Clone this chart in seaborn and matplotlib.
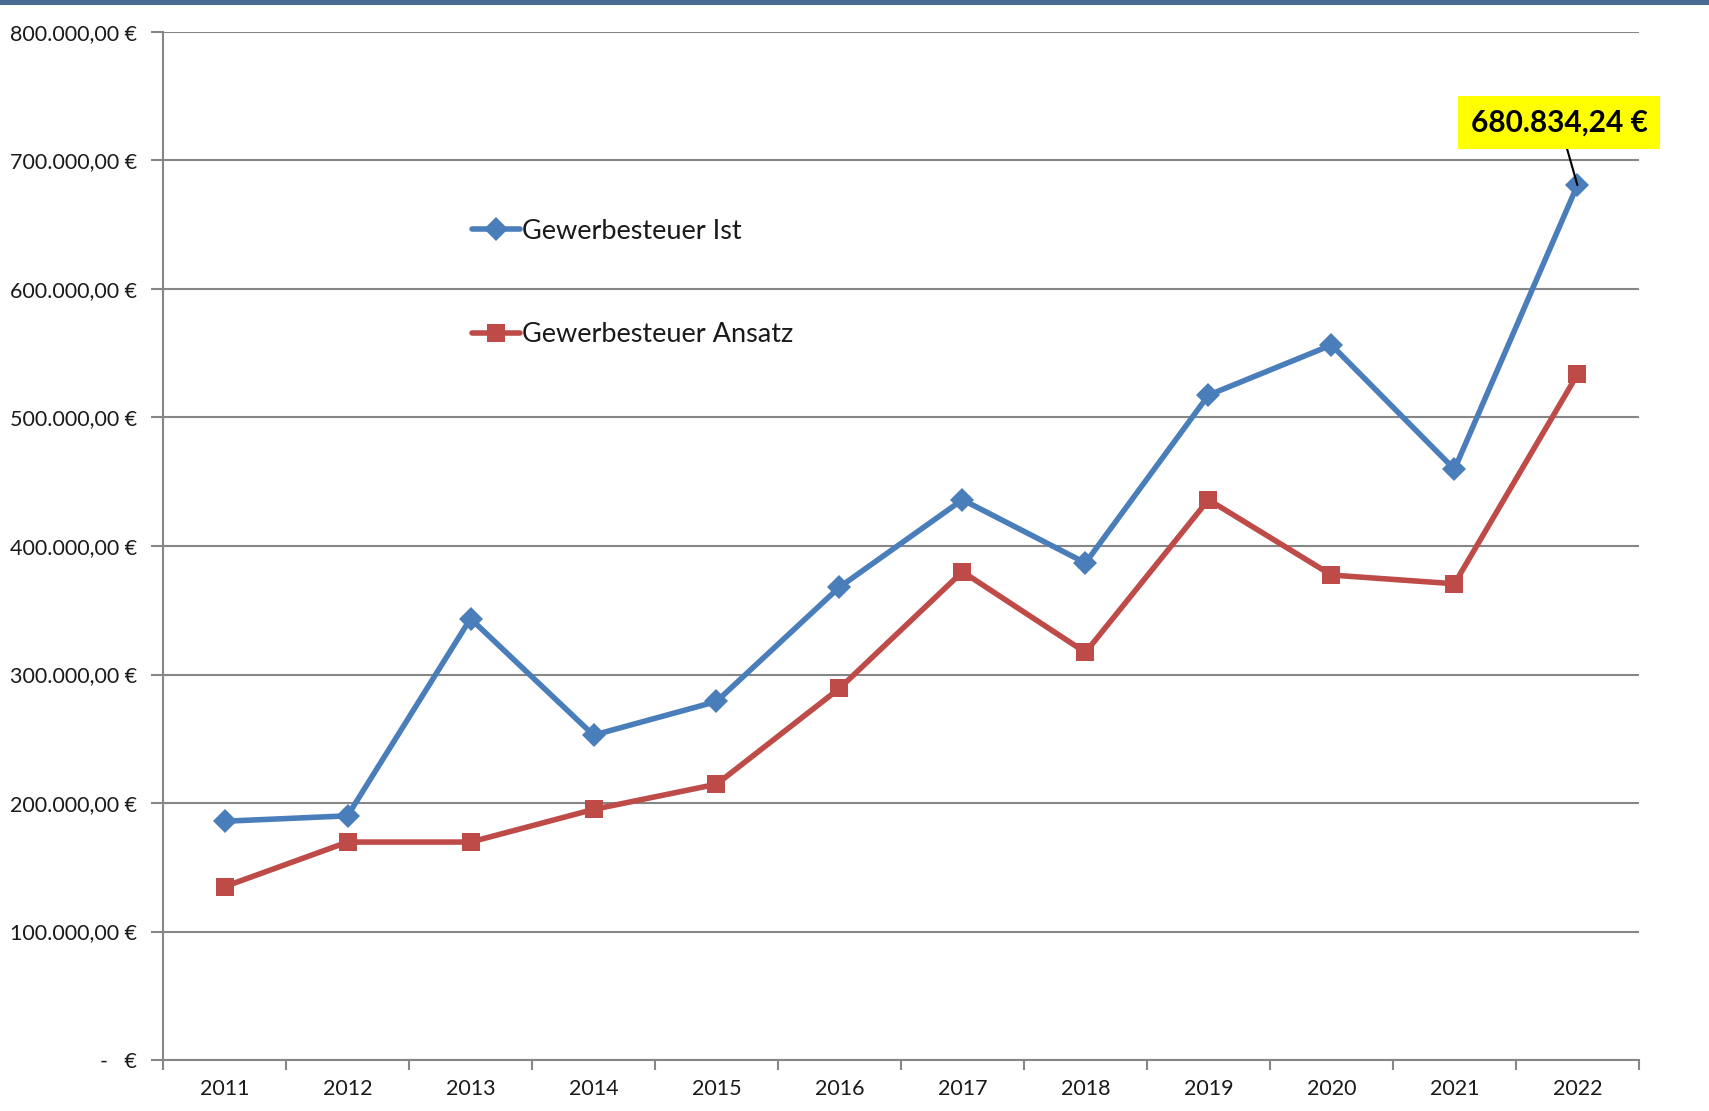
import numpy as np
import pandas as pd
import matplotlib
matplotlib.use("Agg")
import matplotlib.pyplot as plt
import matplotlib.ticker as mticker
from matplotlib.patches import Rectangle
import seaborn as sns

# --- Data ---
jahre = ["2011", "2012", "2013", "2014", "2015", "2016",
         "2017", "2018", "2019", "2020", "2021", "2022"]
ist = [185800, 190000, 343500, 252800, 279000, 368000,
       436000, 386800, 517400, 556400, 459700, 680834.24]
ansatz = [134900, 169600, 169600, 195000, 214600, 289200,
          380000, 317200, 436000, 377400, 370600, 533500]
serien = ["Gewerbesteuer Ist", "Gewerbesteuer Ansatz"]
farben = {"Gewerbesteuer Ist": "#4A7EBB", "Gewerbesteuer Ansatz": "#BE4B48"}
marker = {"Gewerbesteuer Ist": "D", "Gewerbesteuer Ansatz": "s"}

df = pd.DataFrame({
    "Jahr": jahre * 2,
    "Wert": ist + ansatz,
    "Serie": [serien[0]] * len(jahre) + [serien[1]] * len(jahre),
})

# --- Style ---
sns.set_theme(style="white")
plt.rcParams["font.family"] = ["Lato", "DejaVu Sans"]
grau = "#868686"


def euro_fmt(v, pos=None):
    if abs(v) < 1e-6:
        return "-   €"
    s = f"{v:,.2f}"
    s = s.replace(",", "X").replace(".", ",").replace("X", ".")
    return s + " €"


fig = plt.figure(figsize=(17.09, 11.11), dpi=100)
ax = fig.add_axes([0.0954, 0.0459, 0.8636, 0.9253])

sns.lineplot(data=df, x="Jahr", y="Wert", hue="Serie", style="Serie",
             palette=farben, markers=marker, dashes=False, lw=4,
             markersize=12.5, markeredgewidth=0, sort=False, ax=ax)

# axes
ax.set_xlim(-0.5, len(jahre) - 0.5)
ax.set_ylim(0, 800000)
ax.set_xlabel("")
ax.set_ylabel("")
ax.yaxis.set_major_locator(mticker.MultipleLocator(100000))
ax.yaxis.set_major_formatter(mticker.FuncFormatter(euro_fmt))
ax.set_xticks(range(len(jahre)))
ax.set_xticklabels(jahre)
ax.xaxis.set_minor_locator(mticker.FixedLocator(np.arange(-0.5, len(jahre), 1)))
ax.tick_params(axis="x", which="major", length=0, pad=14, labelsize=15.5, labelcolor="#1a1a1a")
ax.tick_params(axis="x", which="minor", length=7, width=1.5, color=grau, direction="out", bottom=True)
ax.tick_params(axis="y", length=9, width=1.5, color=grau, direction="out", left=True,
               labelsize=15.5, labelcolor="#1a1a1a", pad=10)
ax.grid(axis="y", color=grau, lw=1.5)
ax.set_axisbelow(True)
for side in ["top", "right"]:
    ax.spines[side].set_visible(False)
for side in ["left", "bottom"]:
    ax.spines[side].set_color(grau)
    ax.spines[side].set_linewidth(1.5)

# legend
handles, labels = ax.get_legend_handles_labels()
leg = ax.legend(handles, labels, loc="upper left", bbox_to_anchor=(0.193, 0.842),
                frameon=False, fontsize=19.5, labelspacing=2.9, handlelength=1.75,
                handletextpad=0.1)
for h in leg.legend_handles:
    h.set_linewidth(4)
for t in leg.get_texts():
    t.set_color("#1a1a1a")

# annotation of last value
ax.annotate(euro_fmt(ist[-1]), xy=(len(jahre) - 1, ist[-1]),
            xytext=(-18, 63), textcoords="offset pixels",
            ha="center", va="center", fontsize=21.5, fontweight="bold", color="black",
            bbox=dict(boxstyle="square,pad=0.42", fc="#FFFF00", ec="none"),
            arrowprops=dict(arrowstyle="-", color="black", lw=1.5, shrinkA=0, shrinkB=0),
            annotation_clip=False, zorder=5)

# top border bar
fig.patches.append(Rectangle((0, 1 - 5 / 1111), 1, 5 / 1111, transform=fig.transFigure,
                             fc="#4A6A94", ec="none"))

fig.savefig("out.png", dpi=100)
